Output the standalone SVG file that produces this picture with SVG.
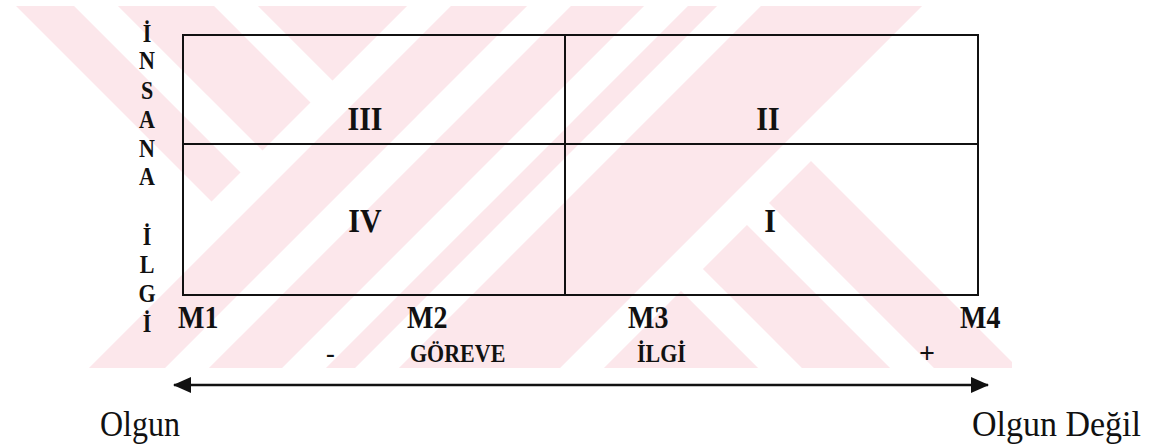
<svg xmlns="http://www.w3.org/2000/svg" width="1150" height="444" viewBox="0 0 1150 444">
<style>
.wm{fill:#fce7eb}
.ws{fill:none;stroke:#ffffff;stroke-width:31;stroke-linecap:butt}
.wf{fill:#ffffff}
.box{fill:none;stroke:#111;stroke-width:2}
.b{font-family:"Liberation Serif","Times New Roman",serif;font-weight:bold;fill:#111}
.r{font-family:"Liberation Serif","Times New Roman",serif;fill:#111}
.q{font-size:30px;text-anchor:middle}
.v{font-size:22px;text-anchor:middle}
.m{font-size:28px}
.s{font-size:22px}
.conn{fill:none;stroke:#111;stroke-width:2.6}
</style>
<defs>
<clipPath id="wmclip"><rect x="12" y="6" width="1000" height="362"/></clipPath>
<marker id="ah" viewBox="0 0 18 16" refX="17" refY="8" markerUnits="userSpaceOnUse" markerWidth="18" markerHeight="16" orient="auto-start-reverse">
<path d="M0,0 L18,8 L0,16 Z" fill="#111"/>
</marker>
</defs>
<g id="watermark" clip-path="url(#wmclip)">
<rect class="wm" x="12" y="6" width="1000" height="362"/>
<polygon class="wf" points="12,6 16,6 222,212 66,368 12,368"/>
<polygon class="wf" points="944,6 1012,6 1012,362 800,150"/>
<line class="ws" x1="441" y1="-6" x2="55" y2="380"/>
<line class="ws" x1="561" y1="-6" x2="175" y2="380"/>
<line class="ws" x1="678" y1="-6" x2="292" y2="380"/>
<line class="ws" x1="751" y1="-6" x2="365" y2="380"/>
<line class="ws" x1="956" y1="-6" x2="570" y2="380"/>
<polyline class="ws" points="84,-6 262,172"/>
<polyline class="ws" points="224,-6 332,102"/>
<polyline class="ws" points="685,273 792,380"/>
<polyline class="ws" points="744,200 924,380"/>
</g>
<g id="quadrants">
<g id="q3"><rect class="box" x="183" y="35" width="382" height="109"/><text class="b q" transform="translate(365,130) scale(1,1.15)">III</text></g>
<g id="q2"><rect class="box" x="565" y="35" width="413" height="109"/><text class="b q" transform="translate(768,130) scale(1,1.15)">II</text></g>
<g id="q4"><rect class="box" x="183" y="144" width="382" height="151"/><text class="b q" transform="translate(365,232) scale(1,1.15)">IV</text></g>
<g id="q1"><rect class="box" x="565" y="144" width="413" height="151"/><text class="b q" transform="translate(770,232) scale(1,1.15)">I</text></g>
</g>
<g id="yaxis">
<text class="b v" transform="translate(147,42) scale(1,1.1)">İ</text>
<text class="b v" transform="translate(147,69) scale(1,1.1)">N</text>
<text class="b v" transform="translate(147,99) scale(1,1.1)">S</text>
<text class="b v" transform="translate(147,128) scale(1,1.1)">A</text>
<text class="b v" transform="translate(147,157) scale(1,1.1)">N</text>
<text class="b v" transform="translate(147,185) scale(1,1.1)">A</text>
<text class="b v" transform="translate(147,245) scale(1,1.1)">İ</text>
<text class="b v" transform="translate(147,273) scale(1,1.1)">L</text>
<text class="b v" transform="translate(147,302) scale(1,1.1)">G</text>
<text class="b v" transform="translate(147,332) scale(1,1.1)">İ</text>
</g>
<g id="xlabels">
<text class="b m" transform="translate(178,328) scale(1,1.12)">M1</text>
<text class="b m" transform="translate(407,328) scale(1,1.12)">M2</text>
<text class="b m" transform="translate(628,328) scale(1,1.12)">M3</text>
<text class="b m" transform="translate(960,328) scale(1,1.12)">M4</text>
<text class="b s" transform="translate(326,362) scale(1.2,1.12)">-</text>
<text class="b s" transform="translate(410,362) scale(1,1.12)">GÖREVE</text>
<text class="b s" transform="translate(637,362) scale(1,1.12)">İLGİ</text>
<text class="b" font-size="28" transform="translate(919,363) scale(1,1.05)">+</text>
</g>
<g id="connectors">
<line class="conn" x1="174" y1="385" x2="988" y2="385" marker-start="url(#ah)" marker-end="url(#ah)"/>
</g>
<g id="ends">
<text class="r" font-size="32" transform="translate(100,436) scale(1,1.12)">Olgun</text>
<text class="r" font-size="34" transform="translate(972,436) scale(1,1.08)">Olgun Değil</text>
</g>
</svg>
